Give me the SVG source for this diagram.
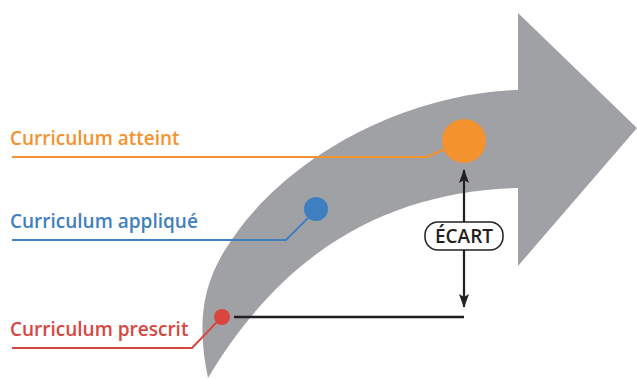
<svg xmlns="http://www.w3.org/2000/svg" width="637" height="379" viewBox="0 0 637 379">
<defs>
<style>
.lbl{font-family:"Open Sans","Liberation Sans",sans-serif;font-weight:600;font-size:19px}
.lead{fill:none;stroke-width:2}
</style>
<marker id="ah" viewBox="0 0 14 10" refX="13" refY="5" markerWidth="14" markerHeight="10" orient="auto-start-reverse" markerUnits="userSpaceOnUse">
<path d="M0,0 L14,5 L0,10 L3,5 z" fill="#231f20"/>
</marker>
</defs>
<rect width="637" height="379" fill="#fff"/>
<g id="arrow">
<path d="M208,378 C198,330 200,290 225,250 C280,160 400,95 515,90 L518,90 L518,13 L637,128 L518,266 L518,188 L515,188 C400,192 290,240 208,378 Z" fill="#a0a1a4"/>
</g>
<g id="connectors">
<polyline class="lead" points="12,157 427,157 445,149" stroke="#f4922e"/>
<polyline class="lead" points="12,240 286,240 308,218" stroke="#3f7fc1"/>
<polyline class="lead" points="12,348 192,348 217,322" stroke="#d9463f"/>
<line x1="234" y1="317" x2="464" y2="317" stroke="#231f20" stroke-width="2.5"/>
<line x1="464" y1="222" x2="464" y2="170" stroke="#231f20" stroke-width="2.2" marker-end="url(#ah)"/>
<line x1="464" y1="250" x2="464" y2="307" stroke="#231f20" stroke-width="2.2" marker-end="url(#ah)"/>
</g>
<g id="atteint">
<circle cx="464" cy="141" r="22" fill="#f4922e"/>
<text class="lbl" x="10" y="145" fill="#f4922e">Curriculum atteint</text>
</g>
<g id="applique">
<circle cx="316" cy="209" r="12" fill="#3f7fc1"/>
<text class="lbl" x="10" y="228" fill="#3f7fc1">Curriculum appliqué</text>
</g>
<g id="prescrit">
<circle cx="222" cy="317" r="8" fill="#d9463f"/>
<text class="lbl" x="10" y="336" fill="#d9463f">Curriculum prescrit</text>
</g>
<g id="ecart">
<rect x="425" y="222" width="78" height="28" rx="13" fill="#fff" stroke="#231f20" stroke-width="1.5"/>
<text x="464" y="243" text-anchor="middle" font-family="'Open Sans','Liberation Sans',sans-serif" font-weight="600" font-size="19" fill="#231f20">ÉCART</text>
</g>
</svg>
